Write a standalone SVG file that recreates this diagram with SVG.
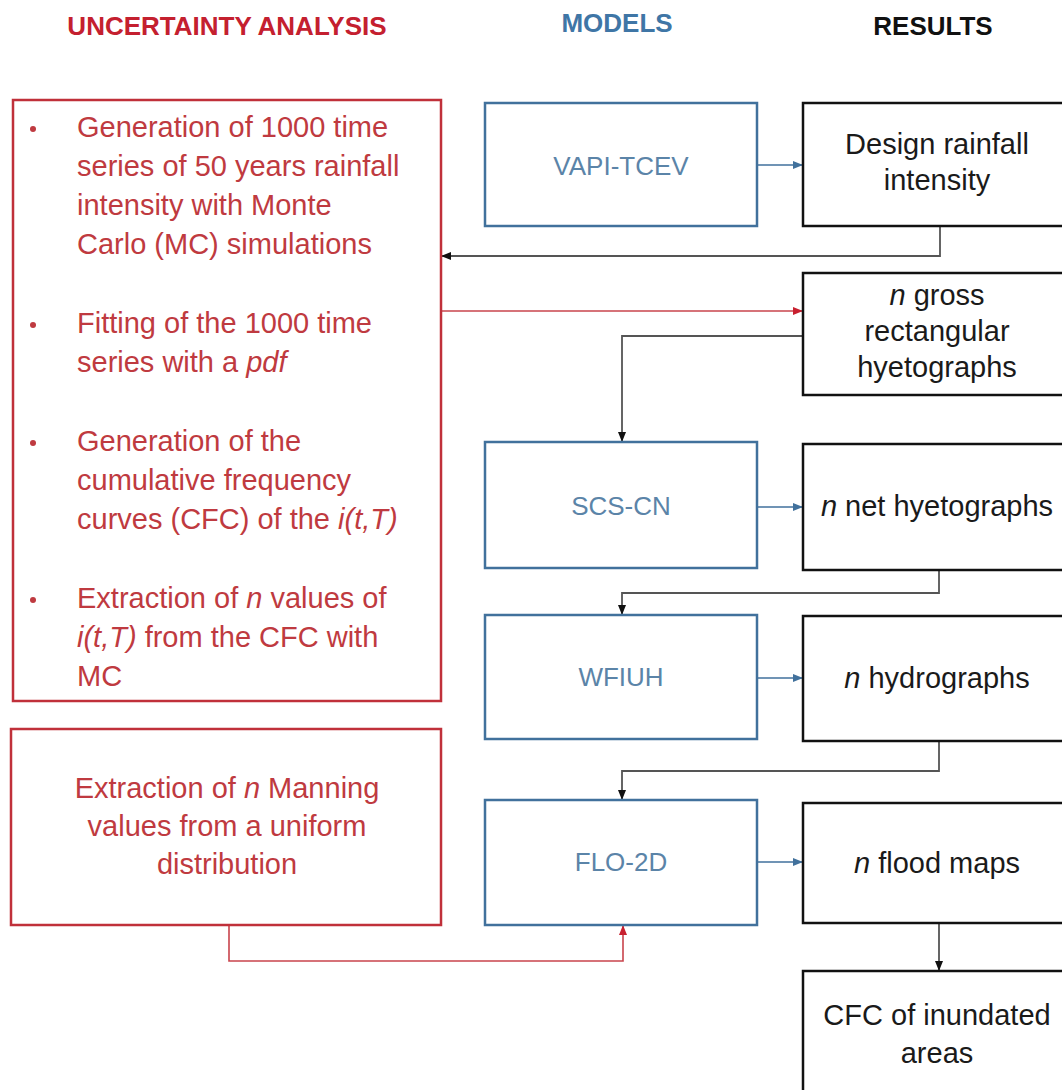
<svg xmlns="http://www.w3.org/2000/svg" width="1062" height="1090" viewBox="0 0 1062 1090">
<style>
text{font-family:"Liberation Sans",Arial,sans-serif;}
.title{font-size:26px;font-weight:bold;text-anchor:middle;}
.ua{fill:#c4202f;}
.mo{fill:#3f76a6;}
.re{fill:#111;}
.rbox{fill:#fff;stroke:#c0303a;stroke-width:2.5;}
.mbox{fill:#fff;stroke:#41719c;stroke-width:2.5;}
.kbox{fill:#fff;stroke:#111;stroke-width:2.5;}
.rt{font-size:29px;fill:#bf3a40;}
.mt{font-size:26px;fill:#5b84a8;text-anchor:middle;}
.kt{font-size:29px;fill:#1a1a1a;text-anchor:middle;}
.i{font-style:italic;}
.cb{fill:none;stroke:#41719c;stroke-width:1.6;}
.ck{fill:none;stroke:#555;stroke-width:1.8;}
.cr{fill:none;stroke:#c9444c;stroke-width:1.6;}
</style>
<defs>
<marker id="ab" markerWidth="10" markerHeight="8" refX="9" refY="4" orient="auto" markerUnits="userSpaceOnUse"><path d="M0,0 L10,4 L0,8 Z" fill="#41719c"/></marker>
<marker id="ak" markerWidth="10" markerHeight="8" refX="9" refY="4" orient="auto" markerUnits="userSpaceOnUse"><path d="M0,0 L10,4 L0,8 Z" fill="#111"/></marker>
<marker id="ar" markerWidth="10" markerHeight="8" refX="9" refY="4" orient="auto" markerUnits="userSpaceOnUse"><path d="M0,0 L10,4 L0,8 Z" fill="#c8202f"/></marker>
</defs>

<g id="titles">
<text class="title ua" x="227" y="35">UNCERTAINTY ANALYSIS</text>
<text class="title mo" x="617" y="32">MODELS</text>
<text class="title re" x="933" y="35">RESULTS</text>
</g>

<g id="connectors">
<path class="cb" d="M757,165 H802" marker-end="url(#ab)"/>
<path class="ck" d="M940,226 V256 H442" marker-end="url(#ak)"/>
<path class="cr" d="M441,311 H802" marker-end="url(#ar)"/>
<path class="ck" d="M803,336 H622 V441" marker-end="url(#ak)"/>
<path class="cb" d="M757,507 H802" marker-end="url(#ab)"/>
<path class="ck" d="M939,570 V593 H622 V614" marker-end="url(#ak)"/>
<path class="cb" d="M757,678 H802" marker-end="url(#ab)"/>
<path class="ck" d="M939,741 V771 H622 V799" marker-end="url(#ak)"/>
<path class="cb" d="M757,862 H802" marker-end="url(#ab)"/>
<path class="ck" d="M939,923 V970" marker-end="url(#ak)"/>
<path class="cr" d="M229,925 V961 H623 V926" marker-end="url(#ar)"/>
</g>

<g id="uncertainty-mc">
<rect class="rbox" x="13" y="100" width="428" height="601"/>
<circle cx="33" cy="129" r="3" fill="#bf3a40"/>
<circle cx="33" cy="325" r="3" fill="#bf3a40"/>
<circle cx="33" cy="443" r="3" fill="#bf3a40"/>
<circle cx="33" cy="600" r="3" fill="#bf3a40"/>
<text class="rt" x="77" y="137">Generation of 1000 time</text>
<text class="rt" x="77" y="176">series of 50 years rainfall</text>
<text class="rt" x="77" y="215">intensity with Monte</text>
<text class="rt" x="77" y="254">Carlo (MC) simulations</text>
<text class="rt" x="77" y="333">Fitting of the 1000 time</text>
<text class="rt" x="77" y="372">series with a <tspan class="i">pdf</tspan></text>
<text class="rt" x="77" y="451">Generation of the</text>
<text class="rt" x="77" y="490">cumulative frequency</text>
<text class="rt" x="77" y="529">curves (CFC) of the <tspan class="i">i(t,T)</tspan></text>
<text class="rt" x="77" y="608">Extraction of <tspan class="i">n</tspan> values of</text>
<text class="rt" x="77" y="647"><tspan class="i">i(t,T)</tspan> from the CFC  with</text>
<text class="rt" x="77" y="686">MC</text>
</g>

<g id="uncertainty-manning">
<rect class="rbox" x="11" y="729" width="430" height="196"/>
<text class="rt" x="227" y="798" text-anchor="middle">Extraction of <tspan class="i">n</tspan> Manning</text>
<text class="rt" x="227" y="836" text-anchor="middle">values from a uniform</text>
<text class="rt" x="227" y="874" text-anchor="middle">distribution</text>
</g>

<g id="vapi-tcev">
<rect class="mbox" x="485" y="103" width="272" height="123"/>
<text class="mt" x="621" y="175">VAPI-TCEV</text>
</g>
<g id="scs-cn">
<rect class="mbox" x="485" y="442" width="272" height="126"/>
<text class="mt" x="621" y="515">SCS-CN</text>
</g>
<g id="wfiuh">
<rect class="mbox" x="485" y="615" width="272" height="124"/>
<text class="mt" x="621" y="686">WFIUH</text>
</g>
<g id="flo-2d">
<rect class="mbox" x="485" y="800" width="272" height="125"/>
<text class="mt" x="621" y="871">FLO-2D</text>
</g>

<g id="design-rainfall">
<rect class="kbox" x="803" y="103" width="275" height="123"/>
<text class="kt" x="937" y="154">Design rainfall</text>
<text class="kt" x="937" y="190">intensity</text>
</g>
<g id="gross-hyetographs">
<rect class="kbox" x="803" y="273" width="275" height="122"/>
<text class="kt" x="937" y="305"><tspan class="i">n</tspan> gross</text>
<text class="kt" x="937" y="341">rectangular</text>
<text class="kt" x="937" y="377">hyetographs</text>
</g>
<g id="net-hyetographs">
<rect class="kbox" x="803" y="444" width="275" height="126"/>
<text class="kt" x="937" y="516"><tspan class="i">n</tspan> net hyetographs</text>
</g>
<g id="hydrographs">
<rect class="kbox" x="803" y="616" width="275" height="125"/>
<text class="kt" x="937" y="688"><tspan class="i">n</tspan> hydrographs</text>
</g>
<g id="flood-maps">
<rect class="kbox" x="803" y="803" width="275" height="120"/>
<text class="kt" x="937" y="873"><tspan class="i">n</tspan> flood maps</text>
</g>
<g id="cfc-inundated">
<rect class="kbox" x="803" y="971" width="275" height="130"/>
<text class="kt" x="937" y="1025">CFC of inundated</text>
<text class="kt" x="937" y="1063">areas</text>
</g>
</svg>
